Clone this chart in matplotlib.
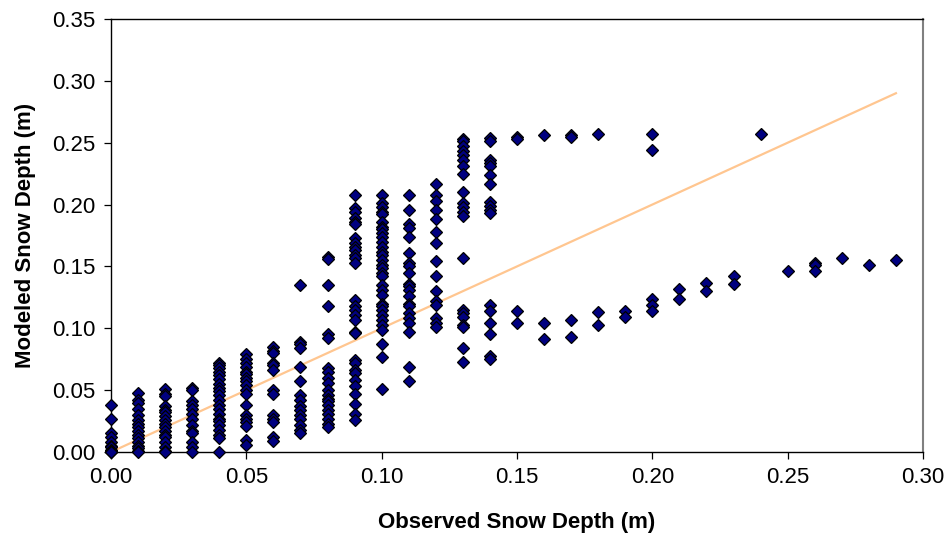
import matplotlib
matplotlib.use("Agg")
import matplotlib.pyplot as plt
from matplotlib.ticker import FormatStrFormatter

plt.rcParams['font.family'] = ['Liberation Sans', 'DejaVu Sans']

# Observed depth (m) -> modeled depths (m)
modeled_by_observed = {
    0.00: [0.038, 0.027, 0.015, 0.012, 0.008, 0.005, 0.004, 0.002, 0.001, 0.0, 0.0],
    0.01: [0.048, 0.042, 0.040, 0.035, 0.030, 0.026, 0.023, 0.020, 0.017, 0.014, 0.011,
           0.008, 0.005, 0.003, 0.001, 0.0],
    0.02: [0.051, 0.047, 0.045, 0.037, 0.034, 0.032, 0.029, 0.026, 0.023, 0.020, 0.017,
           0.014, 0.012, 0.008, 0.004, 0.001, 0.0],
    0.03: [0.052, 0.050, 0.041, 0.038, 0.035, 0.031, 0.027, 0.022, 0.017, 0.015, 0.008,
           0.004, 0.0],
    0.04: [0.072, 0.070, 0.068, 0.065, 0.062, 0.059, 0.055, 0.052, 0.049, 0.046, 0.042,
           0.038, 0.035, 0.031, 0.027, 0.025, 0.022, 0.018, 0.014, 0.011, 0.0],
    0.05: [0.079, 0.075, 0.072, 0.069, 0.065, 0.063, 0.060, 0.057, 0.054, 0.050, 0.047,
           0.038, 0.030, 0.027, 0.024, 0.021, 0.010, 0.006],
    0.06: [0.085, 0.082, 0.080, 0.072, 0.070, 0.066, 0.050, 0.047, 0.030, 0.027, 0.024,
           0.012, 0.009],
    0.07: [0.135, 0.089, 0.087, 0.084, 0.069, 0.057, 0.046, 0.042, 0.037, 0.034, 0.030,
           0.027, 0.022, 0.018, 0.015],
    0.08: [0.158, 0.156, 0.135, 0.118, 0.095, 0.092, 0.068, 0.065, 0.060, 0.056, 0.050,
           0.046, 0.043, 0.041, 0.038, 0.034, 0.031, 0.027, 0.023, 0.020],
    0.09: [0.208, 0.197, 0.194, 0.189, 0.186, 0.184, 0.173, 0.169, 0.166, 0.163, 0.159,
           0.157, 0.153, 0.123, 0.118, 0.115, 0.111, 0.107, 0.097, 0.096, 0.074, 0.072,
           0.066, 0.064, 0.058, 0.053, 0.047, 0.039, 0.031, 0.026],
    0.10: [0.208, 0.201, 0.198, 0.194, 0.192, 0.186, 0.182, 0.180, 0.177, 0.174, 0.170,
           0.166, 0.162, 0.159, 0.155, 0.151, 0.149, 0.145, 0.142, 0.135, 0.131, 0.127,
           0.120, 0.118, 0.115, 0.111, 0.107, 0.103, 0.099, 0.087, 0.077, 0.051],
    0.11: [0.208, 0.196, 0.184, 0.181, 0.174, 0.161, 0.153, 0.150, 0.145, 0.136, 0.134,
           0.131, 0.126, 0.120, 0.118, 0.112, 0.108, 0.104, 0.097, 0.069, 0.057],
    0.12: [0.217, 0.208, 0.2025, 0.196, 0.188, 0.178, 0.169, 0.154, 0.142, 0.130, 0.122,
           0.119, 0.108, 0.104, 0.101],
    0.13: [0.253, 0.251, 0.247, 0.243, 0.240, 0.236, 0.231, 0.225, 0.210, 0.201, 0.198,
           0.194, 0.191, 0.157, 0.115, 0.112, 0.109, 0.103, 0.101, 0.084, 0.073],
    0.14: [0.254, 0.251, 0.236, 0.234, 0.231, 0.224, 0.217, 0.202, 0.199, 0.196, 0.193,
           0.119, 0.114, 0.104, 0.095, 0.078, 0.075],
    0.15: [0.255, 0.253, 0.114, 0.104],
    0.16: [0.256, 0.104, 0.091],
    0.17: [0.256, 0.255, 0.107, 0.093],
    0.18: [0.257, 0.113, 0.103],
    0.19: [0.114, 0.109],
    0.20: [0.257, 0.244, 0.124, 0.119, 0.114],
    0.21: [0.132, 0.124],
    0.22: [0.137, 0.130],
    0.23: [0.142, 0.136],
    0.24: [0.257],
    0.25: [0.146],
    0.26: [0.153, 0.151, 0.146],
    0.27: [0.157],
    0.28: [0.151],
    0.29: [0.155],
}

# 1:1 reference line over the observed range
line_x = [0.0, 0.29]
line_y = [0.0, 0.29]

x_ticks = [0.00, 0.05, 0.10, 0.15, 0.20, 0.25, 0.30]
y_ticks = [0.00, 0.05, 0.10, 0.15, 0.20, 0.25, 0.30, 0.35]

obs = []
mod = []
for k, vals in modeled_by_observed.items():
    for v in vals:
        obs.append(k)
        mod.append(v)

fig = plt.figure(figsize=(9.5, 5.44), dpi=100)
ax = fig.add_axes([111/950, 92/544, (923-111)/950, (452-19)/544])

ax.plot(obs, mod, linestyle='none', marker='D', markersize=6.6,
        markerfacecolor='#000080', markeredgecolor='black', markeredgewidth=0.9,
        zorder=3, clip_on=False)
ax.plot(line_x, line_y, color='#FFC690', linewidth=1.6, zorder=2)

ax.set_xlim(0, 0.30)
ax.set_ylim(0, 0.35)
ax.set_xticks(x_ticks)
ax.set_yticks(y_ticks)
ax.xaxis.set_major_formatter(FormatStrFormatter('%.2f'))
ax.yaxis.set_major_formatter(FormatStrFormatter('%.2f'))
ax.tick_params(axis='both', direction='out', length=5, width=0.9, labelsize=16,
               colors='black', pad=6)

for s in ['top', 'left', 'bottom']:
    ax.spines[s].set_color('black')
    ax.spines[s].set_linewidth(1.0)
ax.spines['right'].set_color('#808080')
ax.spines['right'].set_linewidth(1.5)

ax.set_xlabel('Observed Snow Depth (m)', fontsize=16, fontweight='bold', labelpad=17)
ax.set_ylabel('Modeled Snow Depth (m)', fontsize=16, fontweight='bold', labelpad=12)

fig.savefig('out.png', dpi=100)
